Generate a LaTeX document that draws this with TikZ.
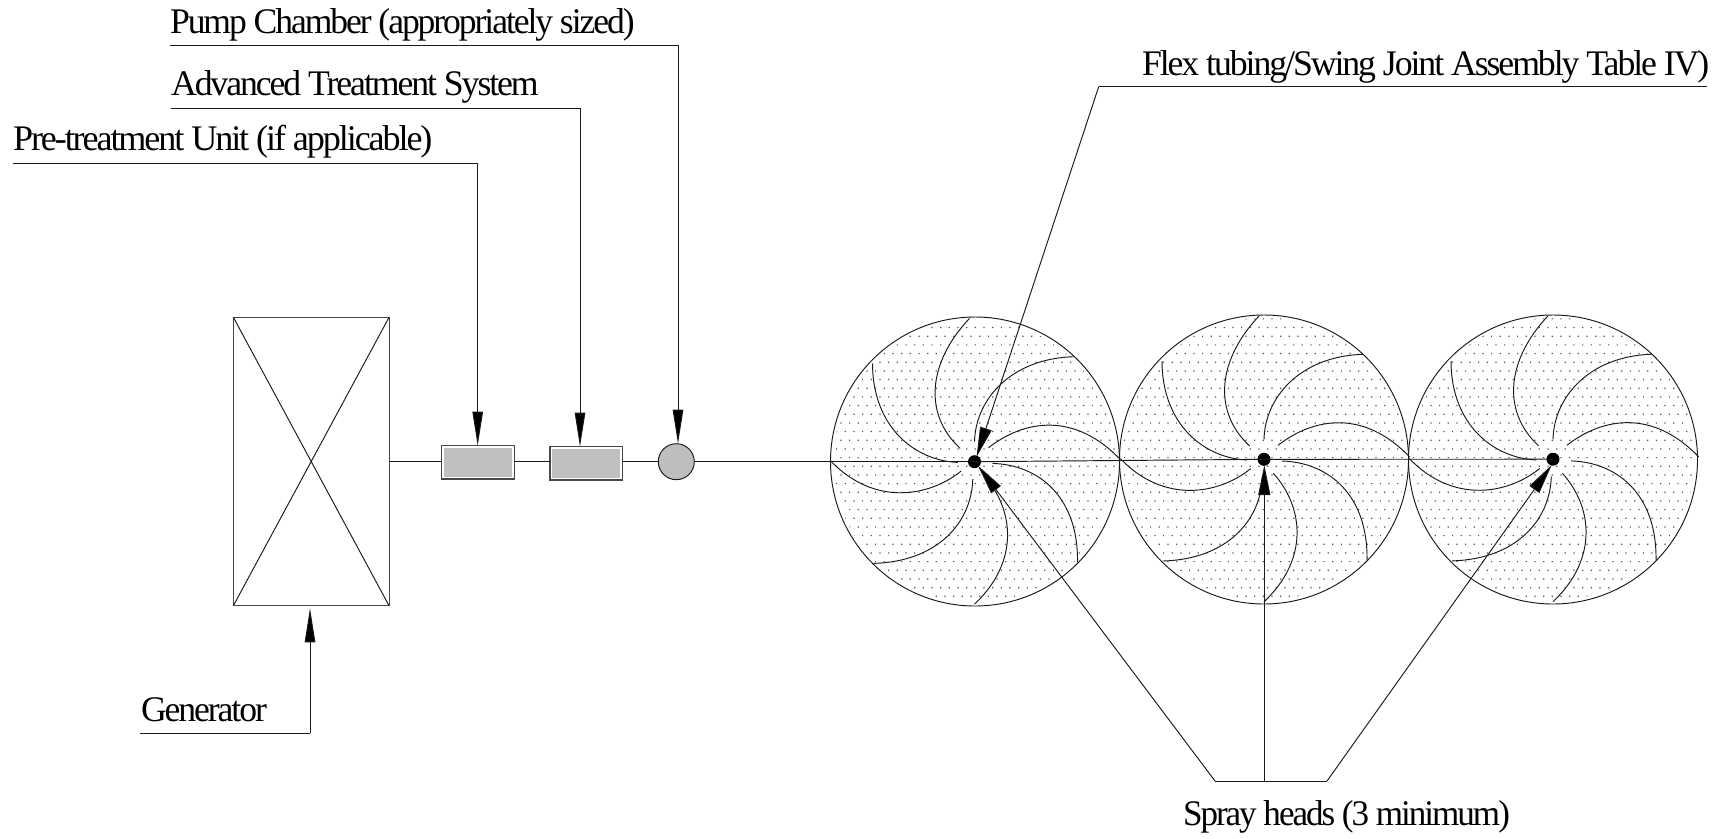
\documentclass[tikz,border=0pt]{standalone}
\usepackage{fontspec}
\setmainfont[LetterSpace=-5.8]{Liberation Serif}
\usetikzlibrary{arrows.meta}
\definecolor{ink}{HTML}{1A1A1A}
\definecolor{boxgray}{HTML}{C0C0C0}
\definecolor{pumpgray}{HTML}{BEBEBE}
\definecolor{dotgray}{HTML}{505050}
\tikzset{
  x=1pt,y=-1pt,
  lbl/.style={anchor=base west,inner sep=0pt,outer sep=0pt,font=\fontsize{36}{38}\selectfont,text=black,transform shape,xscale=#1},
  lbl/.default=1,
  unit/.style={draw=ink!80,line width=1.1pt,fill=white,rectangle,inner sep=0pt,outer sep=0pt,minimum width=72.5pt,minimum height=33.3pt},
  field/.style={circle,draw=ink,inner sep=0pt,outer sep=0pt,minimum size=289pt},
  headnode/.style={circle,fill=black,draw=none,inner sep=0pt,outer sep=0pt,minimum size=13pt},
  tip/.style={-{Triangle[length=34pt,width=10.5pt,fill=black]}},
  tipb/.style={-{Triangle[length=30pt,width=12pt,fill=black]}}
}
\newcommand{\dotfield}[3]{%
  \begin{scope}
    \clip (#1pt,-#2pt) circle (141.5pt);
    \fill[dotgray,draw=none] \foreach \k in {0,...,34} { \foreach \n in {-17,...,17} {
      ({#3+8.67*\n+4.335*mod(\k+1,2)},{457+8.67*(\k-17)}) rectangle +(1.2,1.2) } };
  \end{scope}}
\newcommand{\spokes}[1]{%
  \begin{scope}[shift={(#1)}]
    \draw (14,-14) .. controls (50,-42) and (100,-50) .. (145.7,-2.3);
    \draw (18,1.7) .. controls (64,3) and (104,35) .. (103,100.7);
    \draw (9.3,14) .. controls (40,48) and (45,100) .. (0,142.5);
    \draw (-1.7,17.3) .. controls (-3,62) and (-38,100) .. (-101,101.7);
    \draw (-13.3,9.3) .. controls (-45,35) and (-100,45) .. (-143.7,-0.7);
    \draw (-16.7,0.7) .. controls (-60,-1) and (-102,-35) .. (-102,-98.3);
    \draw (-14.3,-13.3) .. controls (-52,-48) and (-46,-100) .. (-5,-143.3);
    \draw (0,-20) .. controls (1,-62) and (36,-103) .. (99,-105);
  \end{scope}}
\begin{document}
\begin{tikzpicture}[line width=0.95pt,draw=ink]
\path[use as bounding box] (0,0) rectangle (1728,838);

% dots
\dotfield{975}{461.5}{970.4}
\dotfield{1264}{459}{1262.7}
\dotfield{1553}{459}{1551.7}

% field circles and spray heads
\node[field] (c1) at (975,461.5) {};
\node[field] (c2) at (1264,459.5) {};
\node[field] (c3) at (1553,459.5) {};
\coordinate (a1) at (974.5,461.7);
\coordinate (a2) at (1264,459.3);
\coordinate (a3) at (1553,459.2);
\spokes{a1}
\spokes{a2}
\spokes{a3}
\node[headnode] (h1) at (a1) {};
\node[headnode] (h2) at (a2) {};
\node[headnode] (h3) at (a3) {};

% generator
\node[draw=ink!80,line width=1.1pt,rectangle,inner sep=0pt,outer sep=0pt,minimum width=155.7pt,minimum height=288.4pt] (gen) at (311.2,461.5) {};
\draw (gen.north west) -- (gen.south east);
\draw (gen.north east) -- (gen.south west);

% pre-treatment, advanced treatment, pump
\node[unit] (pre) at (478,462.3) {};
\node[unit] (adv) at (586.2,463.3) {};
\fill[boxgray,draw=none] ([shift={(2.2,2.2)}]pre.north west) rectangle ([shift={(-2.2,-2.2)}]pre.south east);
\fill[boxgray,draw=none] ([shift={(2.2,2.2)}]adv.north west) rectangle ([shift={(-2.2,-2.2)}]adv.south east);
\node[circle,draw=ink,fill=pumpgray,inner sep=0pt,outer sep=0pt,minimum size=36pt] (pump) at (676.3,461.7) {};

% trunk line
\draw (gen.east |- pump.center) -- (pre.west |- pump.center);
\draw (pre.east |- pump.center) -- (adv.west |- pump.center);
\draw (adv.east |- pump.center) -- (pump.west);
\draw (pump.east) -- (h1.center);
\draw (h1.center) -- (h2.center);
\draw (h2.center) -- (h3.center);

% labels
\node[lbl=0.988] (lpump) at (170,33) {Pump Chamber (appropriately sized)};
\node[lbl=0.992] (ladv) at (171,95.5) {Advanced Treatment System};
\node[lbl=1.003] (lpre) at (13,150.5) {Pre-treatment Unit (if applicable)};
\node[lbl=0.99] (lgen) at (141,721) {Generator};
\node[lbl=0.993] (lflex) at (1142,75) {Flex tubing/Swing Joint Assembly Table IV)};
\node[lbl=0.975] (lspray) at (1183,825) {Spray heads (3 minimum)};

% leader lines
\coordinate (pumpL) at (170,45);
\coordinate (pumpR) at (678,45);
\coordinate (pumpT) at (678,443.7);
\draw (pumpL) -- (pumpR);
\draw[tip] (pumpR) -- (pumpT);
\coordinate (advL) at (171,108);
\coordinate (advR) at (580,108);
\draw (advL) -- (advR);
\draw[tip] (advR) -- (advR |- adv.north);
\coordinate (preL) at (13,163.3);
\coordinate (preR) at (477.7,163.3);
\draw (preL) -- (preR);
\draw[tip] (preR) -- (preR |- pre.north);
\coordinate (genL) at (140,733.3);
\coordinate (genR) at (310,733.3);
\coordinate (genT) at (310,608.3);
\draw (genL) -- (genR);
\draw[tip] (genR) -- (genT);
\coordinate (flexR) at (1707,86.7);
\coordinate (flexL) at (1098.7,86.7);
\coordinate (flexT) at (976.5,457);
\draw (flexR) -- (flexL);
\draw[tipb] (flexL) -- (flexT);
\coordinate (sprayL) at (1215,781);
\coordinate (sprayM) at (1264.3,781);
\coordinate (sprayR) at (1327,781);
\coordinate (tip1) at (978,465.7);
\coordinate (tip2) at (1264.3,465);
\coordinate (tip3) at (1551.7,465);
\draw (sprayL) -- (sprayR);
\draw[tipb] (sprayL) -- (tip1);
\draw[tipb] (sprayM) -- (tip2);
\draw[tipb] (sprayR) -- (tip3);
\end{tikzpicture}
\end{document}
